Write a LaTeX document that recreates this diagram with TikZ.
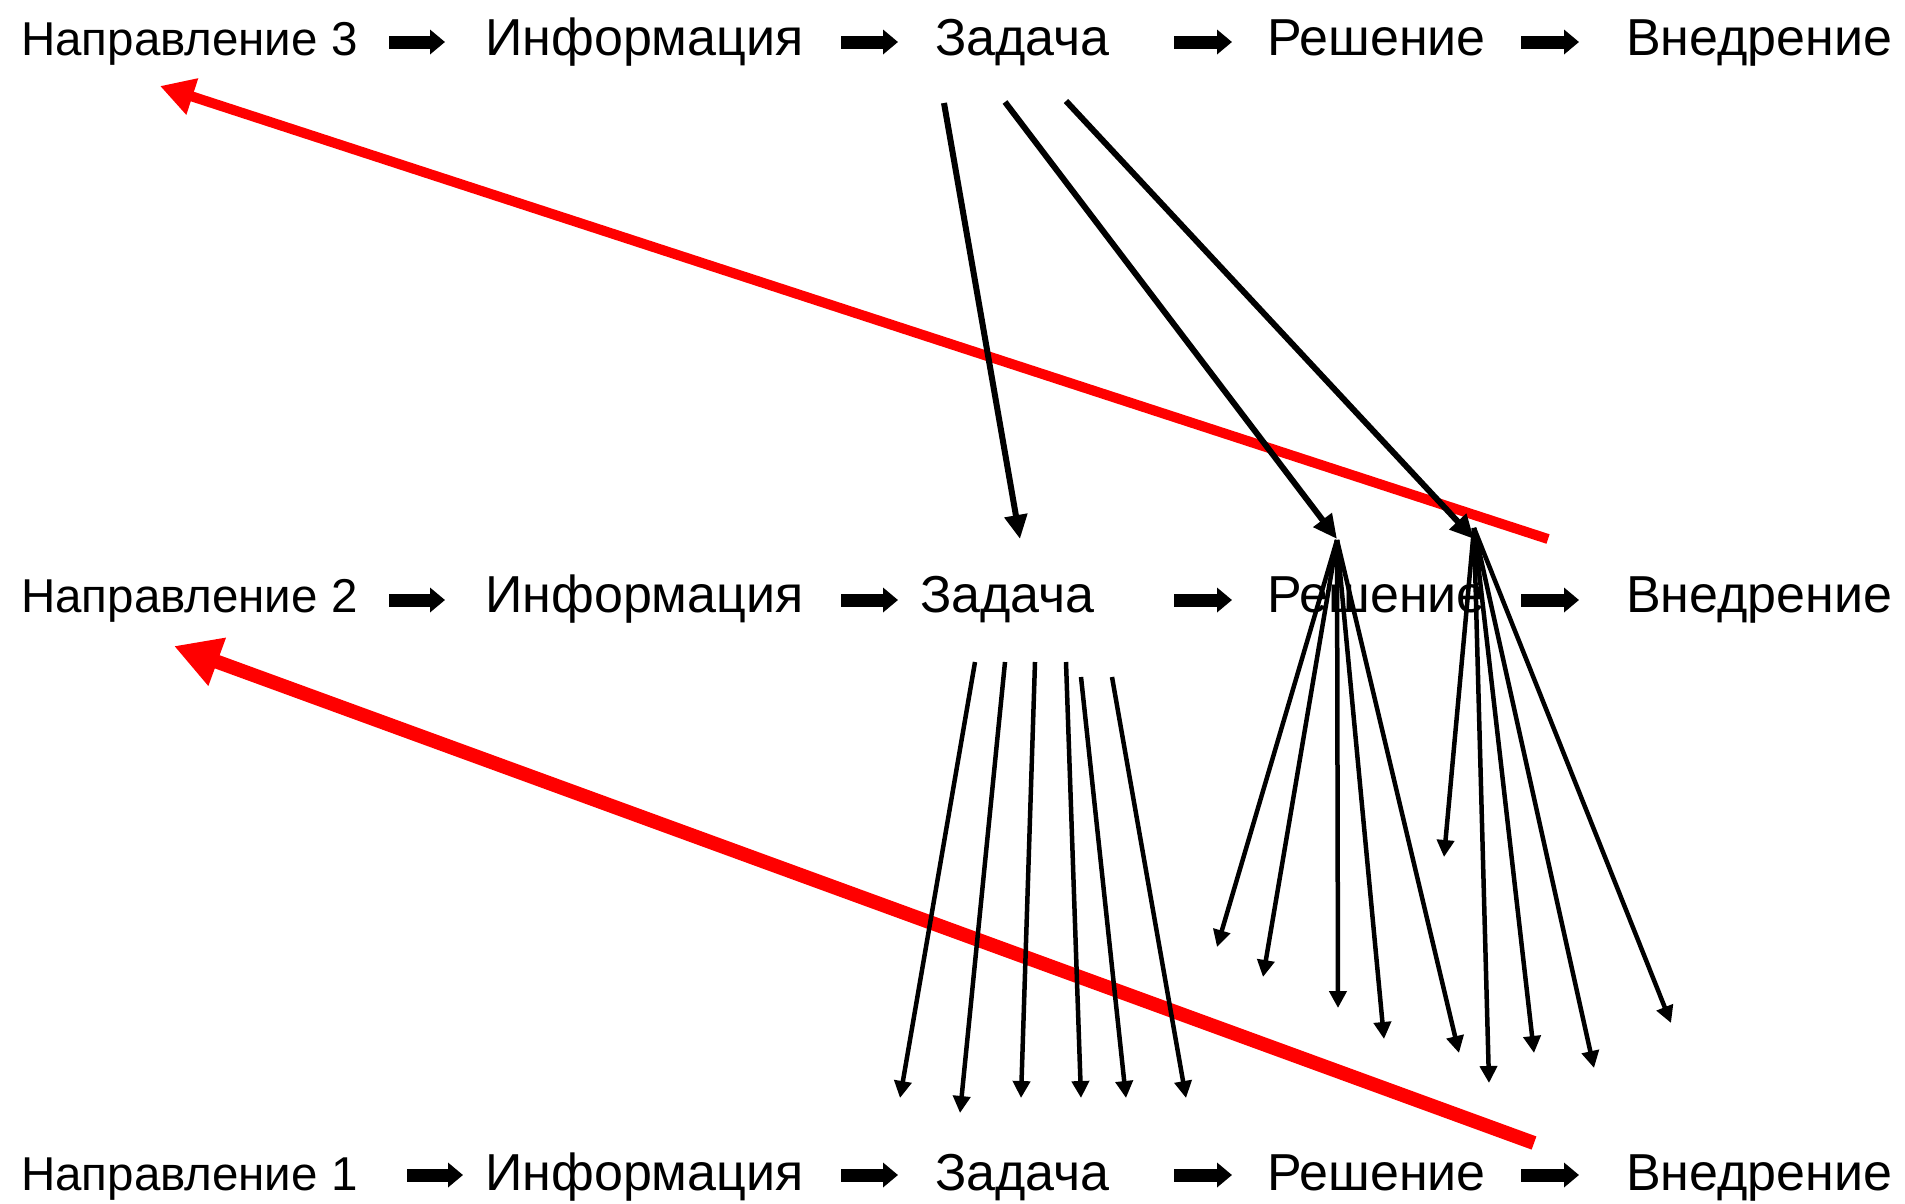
\documentclass[tikz,border=0pt]{standalone}
\usepackage{fontspec}
\setmainfont{Liberation Sans}
\usetikzlibrary{arrows.meta}
\begin{document}
\begin{tikzpicture}[x=1pt,y=-1pt,
  lbl/.style={anchor=base west,inner sep=0pt,font=\fontsize{52}{62}\selectfont},
  dir/.style={lbl,font=\fontsize{47.5}{57}\selectfont},
  blk/.style={line width=13pt,line cap=butt,-{Triangle[length=15pt,width=24pt]}},
  thick arr/.style={line width=6pt,-{Triangle[length=24pt,width=22pt]}},
  fan/.style={line width=4.5pt,-{Triangle[length=17pt,width=17pt]}},
  back3/.style={draw=red,line width=10pt,-{Triangle[length=34pt,width=36pt]}},
  back2/.style={draw=red,line width=14pt,-{Triangle[length=46pt,width=48pt]}}]
\useasboundingbox (0,0) rectangle (1905,1203);
\fill[white] (0,0) rectangle (1905,1203);

% --- row 3 (top) ---
\node[dir] (d3) at (21,55) {Направление 3};
\node[lbl] (i3) at (485,55) {Информация};
\node[lbl] (z3) at (935,55) {Задача};
\node[lbl] (r3) at (1267,55) {Решение};
\node[lbl] (v3) at (1626,55) {Внедрение};
% --- row 2 (middle) ---
\node[dir] (d2) at (21,612) {Направление 2};
\node[lbl] (i2) at (485,612) {Информация};
\node[lbl] (z2) at (920,612) {Задача};
\node[lbl] (r2) at (1267,612) {Решение};
\node[lbl] (v2) at (1626,612) {Внедрение};
% --- row 1 (bottom) ---
\node[dir] (d1) at (21,1190) {Направление 1};
\node[lbl] (i1) at (485,1190) {Информация};
\node[lbl] (z1) at (935,1190) {Задача};
\node[lbl] (r1) at (1267,1190) {Решение};
\node[lbl] (v1) at (1626,1190) {Внедрение};

% block arrows between the steps of each row
\foreach \r/\y/\xa in {3/42/389, 2/600/389, 1/1175/407}{
  \coordinate (a\r a) at (\xa,\y);
  \coordinate (a\r b) at (\xa+56,\y);
  \coordinate (b\r a) at (841,\y);
  \coordinate (b\r b) at (898,\y);
  \coordinate (c\r a) at (1174,\y);
  \coordinate (c\r b) at (1232,\y);
  \coordinate (e\r a) at (1521,\y);
  \coordinate (e\r b) at (1579,\y);
  \draw[blk] (a\r a) -- (a\r b);
  \draw[blk] (b\r a) -- (b\r b);
  \draw[blk] (c\r a) -- (c\r b);
  \draw[blk] (e\r a) -- (e\r b);
}

% red return arrows
\coordinate (ret3s) at (1548,539);
\coordinate (ret3e) at (160,86);
\coordinate (ret2s) at (1534,1143);
\coordinate (ret2e) at (174,646);
\draw[back3] (ret3s) -- (ret3e);
\draw[back2] (ret2s) -- (ret2e);

% task of row 3 feeds row 2
\coordinate (t1s) at (944,103);
\coordinate (t1e) at (1020,539);
\coordinate (t2s) at (1005,102);
\coordinate (t2e) at (1337,539);
\coordinate (t3s) at (1066,101);
\coordinate (t3e) at (1474,539);
\draw[thick arr] (t1s) -- (t1e);
\draw[thick arr] (t2s) -- (t2e);
\draw[thick arr] (t3s) -- (t3e);

% task of row 2 fans down to row 1
\foreach \i/\sx/\sy/\ex/\ey in {1/975/662/900/1098, 2/1005/662/960/1113, 3/1035/662/1021/1098,
  4/1066/662/1081/1098, 5/1081/677/1126/1098, 6/1112/677/1186/1098}{
  \coordinate (u\i s) at (\sx,\sy);
  \coordinate (u\i e) at (\ex,\ey);
  \draw[fan] (u\i s) -- (u\i e);
}

% two solution fans
\coordinate (apL) at (1337,540);
\coordinate (apR) at (1474,528);
\foreach \i/\ex/\ey in {1/1217/947, 2/1263/977, 3/1338/1008, 4/1384/1039, 5/1459/1053}{
  \coordinate (l\i) at (\ex,\ey);
  \draw[fan] (apL) -- (l\i);
}
\foreach \i/\ex/\ey in {1/1444/857, 2/1489/1083, 3/1534/1053, 4/1594/1068, 5/1671/1023}{
  \coordinate (q\i) at (\ex,\ey);
  \draw[fan] (apR) -- (q\i);
}
\end{tikzpicture}
\end{document}
